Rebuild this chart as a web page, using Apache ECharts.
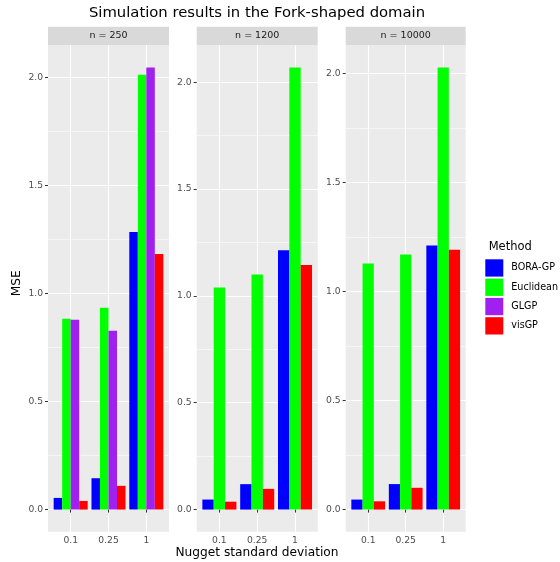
<!DOCTYPE html>
<html>
<head>
<meta charset="utf-8">
<script src="https://cdn.jsdelivr.net/npm/echarts@6/dist/echarts.min.js"></script>
<style>
  html, body { margin: 0; padding: 0; background: #fff; }
  #chart { width: 560px; height: 562px; }
</style>
</head>
<body>
<div id="chart"></div>
<script>
// categories
const nuggetSd = ['0.1', '0.25', '1']
const facetLabels = ['n = 250', 'n = 1200', 'n = 10000']
const methods = ['BORA-GP', 'Euclidean', 'GLGP', 'visGP']
const yTicks = [0, 0.5, 1, 1.5, 2]
const yMinorTicks = [0.25, 0.75, 1.25, 1.75]

// MSE, n = 250
const boraGP250 = [0.054, 0.145, 1.284]
const euclidean250 = [0.883, 0.934, 2.011]
const glgp250 = [0.878, 0.827, 2.045]
const visGP250 = [0.040, 0.110, 1.182]
// MSE, n = 1200
const boraGP1200 = [0.047, 0.119, 1.213]
const euclidean1200 = [1.039, 1.100, 2.069]
const visGP1200 = [0.037, 0.097, 1.145]
// MSE, n = 10000
const boraGP10000 = [0.046, 0.117, 1.211]
const euclidean10000 = [1.129, 1.170, 2.028]
const visGP10000 = [0.038, 0.100, 1.192]

const panels = [
  [['BORA-GP', boraGP250], ['Euclidean', euclidean250], ['GLGP', glgp250], ['visGP', visGP250]],
  [['BORA-GP', boraGP1200], ['Euclidean', euclidean1200], ['visGP', visGP1200]],
  [['BORA-GP', boraGP10000], ['Euclidean', euclidean10000], ['visGP', visGP10000]]
]

const colors = { 'BORA-GP': '#0000FF', 'Euclidean': '#00FF00', 'GLGP': '#A020F0', 'visGP': '#FF0000' }
const font = 'DejaVu Sans'

// layout of the facets
const panelLeft = [48, 196.7, 345.7]
const panelWidth = [121, 121, 120]
const stripTop = 26.7
const panelTop = 45.3
const panelBottom = 531.7

const chart = echarts.init(document.getElementById('chart'))

const grids = [], xAxes = [], yAxes = [], minorAxes = [], series = [], graphics = []

panels.forEach((list, i) => {
  // ggplot style 5% expansion of [0, max]
  const top = Math.max(...list.map(s => Math.max(...s[1])))
  const yMin = -0.05 * top
  const yMax = 1.05 * top

  grids.push({
    left: panelLeft[i],
    top: panelTop,
    width: panelWidth[i],
    height: panelBottom - panelTop,
    show: true,
    backgroundColor: '#EBEBEB',
    borderWidth: 0
  })
  xAxes.push({
    type: 'value',
    gridIndex: i,
    min: 0.4,
    max: 3.6,
    axisLine: { show: false },
    axisTick: { customValues: [1, 2, 3], length: 3, lineStyle: { color: '#333333' } },
    axisLabel: {
      customValues: [1, 2, 3],
      formatter: v => nuggetSd[Math.round(v) - 1],
      color: '#4D4D4D',
      fontSize: 9.2,
      fontFamily: font,
      margin: 4
    },
    splitLine: { show: true, lineStyle: { color: '#FFFFFF', width: 1.1 } }
  })
  yAxes.push({
    type: 'value',
    gridIndex: i,
    min: yMin,
    max: yMax,
    axisLine: { show: false },
    axisTick: { show: true, customValues: yTicks, length: 3, lineStyle: { color: '#333333' } },
    axisLabel: {
      customValues: yTicks,
      formatter: v => v.toFixed(1),
      color: '#4D4D4D',
      fontSize: 9.2,
      fontFamily: font,
      margin: 5
    },
    splitLine: { show: true, lineStyle: { color: '#FFFFFF', width: 1.1 } }
  })
  minorAxes.push({
    type: 'value',
    gridIndex: i,
    position: 'left',
    min: yMin,
    max: yMax,
    axisLine: { show: false },
    axisTick: { show: false, customValues: yMinorTicks },
    axisLabel: { show: false },
    splitLine: { show: true, lineStyle: { color: '#FFFFFF', width: 0.55 } }
  })

  const barWidth = panelWidth[i] / 3.2 * 0.9 / list.length
  list.forEach(([name, values]) => {
    series.push({
      type: 'bar',
      name: name,
      xAxisIndex: i,
      yAxisIndex: i,
      data: values.map((v, k) => [k + 1, v]),
      barWidth: barWidth,
      barGap: '0%',
      itemStyle: { color: colors[name] },
      emphasis: { disabled: true }
    })
  })

  // facet strip
  graphics.push({
    type: 'rect',
    shape: { x: panelLeft[i], y: stripTop, width: panelWidth[i], height: panelTop - stripTop },
    style: { fill: '#D9D9D9' }
  })
  graphics.push({
    type: 'text',
    x: panelLeft[i] + panelWidth[i] / 2,
    y: (stripTop + panelTop) / 2,
    style: {
      text: facetLabels[i],
      align: 'center',
      verticalAlign: 'middle',
      fill: '#1A1A1A',
      font: '9.5px "DejaVu Sans"'
    }
  })
})

graphics.push({
  type: 'text',
  x: 257,
  y: 13,
  style: { text: 'Simulation results in the Fork-shaped domain', align: 'center', verticalAlign: 'middle', fill: '#000', font: '14.8px "DejaVu Sans"' }
})
graphics.push({
  type: 'text',
  x: 257,
  y: 553.3,
  style: { text: 'Nugget standard deviation', align: 'center', verticalAlign: 'middle', fill: '#000', font: '12.2px "DejaVu Sans"' }
})
graphics.push({
  type: 'text',
  x: 16.7,
  y: 283.3,
  rotation: Math.PI / 2,
  style: { text: 'MSE', align: 'center', verticalAlign: 'middle', fill: '#000', font: '12.2px "DejaVu Sans"' }
})
graphics.push({
  type: 'text',
  x: 488.7,
  y: 246.7,
  style: { text: 'Method', align: 'left', verticalAlign: 'middle', fill: '#000', font: '11.5px "DejaVu Sans"' }
})

chart.setOption({
  animation: false,
  grid: grids,
  xAxis: xAxes,
  yAxis: yAxes.concat(minorAxes),
  legend: {
    data: methods,
    orient: 'vertical',
    left: 485.3,
    top: 259.3,
    padding: 0,
    itemWidth: 18,
    itemHeight: 17.3,
    itemGap: 2,
    icon: 'rect',
    selectedMode: false,
    textStyle: { fontSize: 9.6, color: '#000', fontFamily: font, padding: [0, 0, 0, 3] }
  },
  graphic: graphics,
  series: series
})
</script>
</body>
</html>
